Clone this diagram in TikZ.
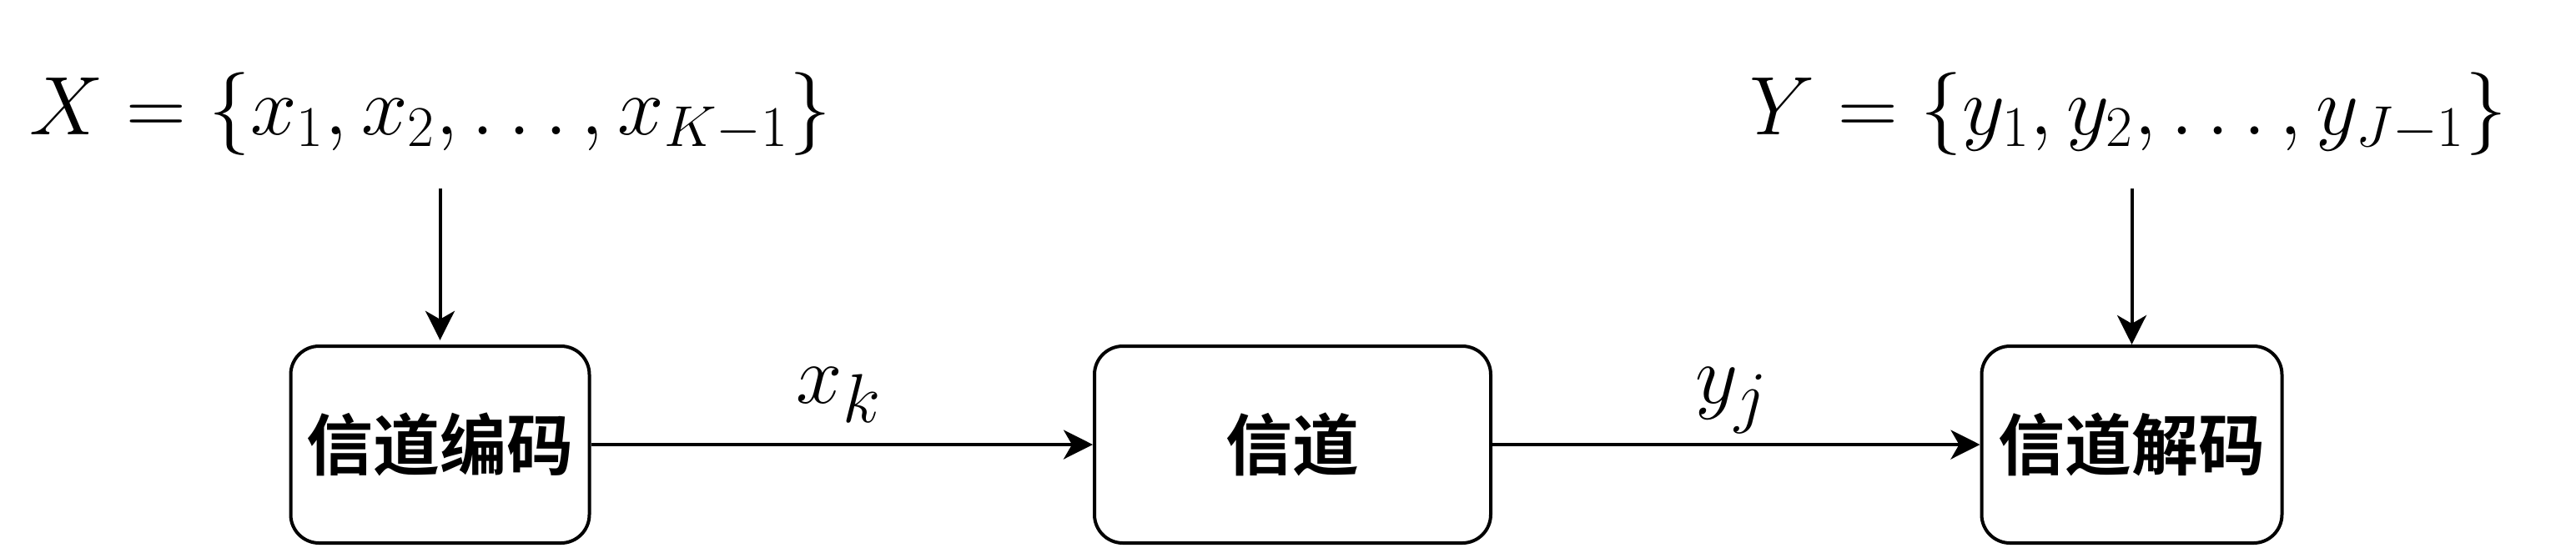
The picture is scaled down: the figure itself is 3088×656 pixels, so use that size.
\documentclass[tikz,border=0pt]{standalone}
\usepackage{fontspec}
\newfontfamily\cjk{Noto Sans CJK SC}[BoldFont={* Bold}]
\usetikzlibrary{arrows.meta}
\begin{document}
\begin{tikzpicture}[x=0.25pt,y=-0.25pt,
  box/.style={draw, line width=1pt, rounded corners=8.5pt, minimum height=59pt, inner sep=0pt,
    font=\cjk\bfseries\fontsize{20}{24}\selectfont},
  arr/.style={draw, line width=1pt, -{Stealth[length=8.75pt,width=8.75pt,inset=2.5pt]}},
  settext/.style={anchor=base, inner sep=0pt, font=\fontsize{25}{30}\selectfont},
  lbl/.style={anchor=base, inner sep=0pt, font=\fontsize{32}{38}\selectfont}]
\useasboundingbox (0,0) rectangle (3088,656);
\node[box, minimum width=89.5pt] (b1) at (527.5,533) {信道编码};
\node[box, minimum width=118.75pt] (b2) at (1549.5,533) {信道};
\node[box, minimum width=90pt] (b3) at (2555.5,533) {信道解码};
\node[settext] (X) at (515.5,161) {$X=\{x_1,x_2,\ldots,x_{K-1}\}$};
\node[settext] (Y) at (2551.5,161) {$Y=\{y_1,y_2,\ldots,y_{J-1}\}$};
\coordinate (t1) at (527.5,226);
\coordinate (t3) at (2555.5,226);
\draw[arr, shorten >=1.3pt] (t1) -- (b1);
\draw[arr] (t3) -- (b3);
\draw[arr] (b1) -- (b2);
\draw[arr] (b2) -- (b3);
\node[lbl] (xkl) at (1006,483) {$x_k$};
\node[lbl] (yjl) at (2076,483) {$y_j$};
\end{tikzpicture}
\end{document}
